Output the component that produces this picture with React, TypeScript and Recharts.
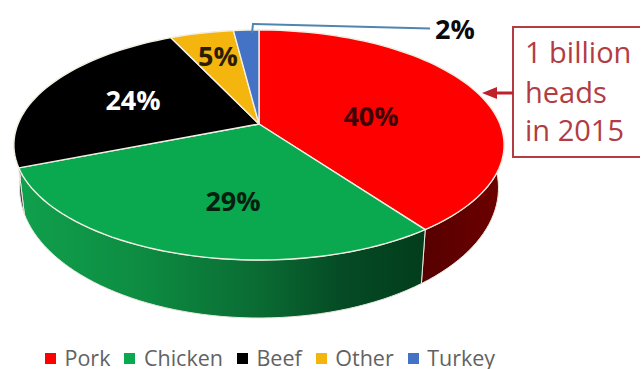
import React from "react";
import { PieChart, Pie, Cell, Legend, Customized } from "recharts";

// Share of world meat production by type
const categories = ["Pork", "Chicken", "Beef", "Other", "Turkey"];
const shares = [40, 29, 24, 5, 2];
const topColors = ["#ff0000", "#0aa84f", "#000000", "#f5b50f", "#4472c4"];

const rows = categories.map((name, i) => ({ name, value: shares[i] }));

// Tilted disc: a unit circle seen in perspective
const CX = 259;
const CY = 124;
const RADIUS = 241;
const TILT = -0.1826;
const DEPTH_SCALE = 111.2;

const faceFonts = "'Open Sans', sans-serif";

function project(angleDeg: number, cx: number, cy: number, r: number) {
  const a = (angleDeg * Math.PI) / 180;
  const u = Math.cos(a);
  const v = -Math.sin(a);
  const d = 1 + TILT * v;
  return { x: cx + (r * u) / d, y: cy + (DEPTH_SCALE * (r / RADIUS) * v) / d };
}

function lowerRim(p: { x: number; y: number }, cx: number) {
  return { x: cx + (p.x - cx) * 0.977, y: 214 + 1.13 * (p.y - 168) };
}

function arcPoints(start: number, end: number, cx: number, cy: number, r: number) {
  const n = Math.max(4, Math.ceil(Math.abs(end - start) / 2));
  const pts = [];
  for (let i = 0; i <= n; i++) pts.push(project(start + ((end - start) * i) / n, cx, cy, r));
  return pts;
}

const toPath = (pts: { x: number; y: number }[]) =>
  pts.map((p, i) => `${i ? "L" : "M"}${p.x.toFixed(2)} ${p.y.toFixed(2)}`).join(" ");

function TopSlice(props: any) {
  const { cx, cy, outerRadius, startAngle, endAngle, fill } = props;
  const pts = arcPoints(startAngle, endAngle, cx, cy, outerRadius);
  return (
    <path
      d={`M${cx} ${cy} ${toPath(pts).replace("M", "L")} Z`}
      fill={fill}
      stroke="#f3efe4"
      strokeWidth={1.4}
      strokeLinejoin="round"
    />
  );
}

function WallSlice(props: any) {
  const { cx, cy, outerRadius, startAngle, endAngle, fill } = props;
  const top = arcPoints(startAngle, endAngle, cx, cy, outerRadius);
  const bottom = top.map((p) => lowerRim(p, cx)).reverse();
  return (
    <path
      d={`${toPath(top)} ${toPath(bottom).replace("M", "L")} Z`}
      fill={fill}
      stroke="#e9e9e0"
      strokeWidth={1}
      strokeLinejoin="round"
    />
  );
}

const wallFills = ["url(#wallPork)", "url(#wallChicken)", "#3a3a3a", "#8a6a08", "#27406e"];

// Where each percentage sits on the disc, with its ink colour
const labelSpots: Record<string, { x: number; y: number; color: string }> = {
  Pork: { x: 371, y: 115, color: "#3d0505" },
  Chicken: { x: 233, y: 200, color: "#06200f" },
  Beef: { x: 133, y: 99, color: "#ffffff" },
  Other: { x: 218, y: 55, color: "#2b1c00" },
  Turkey: { x: 455, y: 28, color: "#0b0b0b" },
};

function SliceLabel(props: any) {
  const { name, value } = props;
  const spot = labelSpots[name];
  return (
    <g>
      {name === "Turkey" && (
        <polyline
          points="252,33 253,24 430,28.5"
          fill="none"
          stroke="#4f86ad"
          strokeWidth={2}
        />
      )}
      <text
        x={spot.x}
        y={spot.y}
        textAnchor="middle"
        dominantBaseline="central"
        fontFamily={faceFonts}
        fontWeight={700}
        fontSize={27}
        fill={spot.color}
      >
        {`${value}%`}
      </text>
    </g>
  );
}

function Callout() {
  const ink = "#b23c42";
  return (
    <g>
      <polyline points="640,27 513,27 513,157 640,157" fill="none" stroke={ink} strokeWidth={2} />
      <line x1={513} y1={93} x2={492} y2={93} stroke="#c0202a" strokeWidth={3} />
      <polygon points="482,93 497,87 497,99" fill="#c0202a" />
      <g fontFamily={faceFonts} fontSize={29} fill={ink}>
        <text x={525} y={63}>1 billion</text>
        <text x={525} y={103}>heads</text>
        <text x={525} y={141}>in 2015</text>
      </g>
    </g>
  );
}

function LegendRow({ payload }: any) {
  const entries = (payload || []).filter((item: any) => item.type !== "none");
  return (
    <div style={{ display: "flex", alignItems: "center", fontFamily: faceFonts, fontSize: 21.5, lineHeight: "22px", color: "#626262" }}>
      {entries.map((item: any) => (
        <span key={item.value} style={{ display: "flex", alignItems: "center", marginRight: 14 }}>
          <span style={{ width: 11, height: 11, background: item.color, marginRight: 8.5 }} />
          {item.value}
        </span>
      ))}
    </div>
  );
}

export default function App() {
  return (
    <div style={{ position: "absolute", left: 0, top: 0, background: "#fff" }}>
      <PieChart width={641} height={369} margin={{ top: 0, right: 0, bottom: 0, left: 0 }}>
        <defs>
          <linearGradient id="wallChicken" gradientUnits="userSpaceOnUse" x1={20} y1={0} x2={425} y2={0}>
            <stop offset="0" stopColor="#10a04c" />
            <stop offset="0.3" stopColor="#0d8c42" />
            <stop offset="0.6" stopColor="#0a6a32" />
            <stop offset="0.8" stopColor="#054a24" />
            <stop offset="1" stopColor="#033d1c" />
          </linearGradient>
          <linearGradient id="wallPork" gradientUnits="userSpaceOnUse" x1={422} y1={0} x2={505} y2={0}>
            <stop offset="0" stopColor="#560000" />
            <stop offset="1" stopColor="#6e0000" />
          </linearGradient>
        </defs>
        <Pie
          data={rows}
          dataKey="value"
          nameKey="name"
          cx={CX}
          cy={CY}
          outerRadius={RADIUS}
          startAngle={90}
          endAngle={-270}
          legendType="none"
          stroke="none"
          shape={WallSlice}
          isAnimationActive={false}
        >
          {rows.map((r, i) => (
            <Cell key={r.name} fill={wallFills[i]} />
          ))}
        </Pie>
        <Pie
          data={rows}
          dataKey="value"
          nameKey="name"
          cx={CX}
          cy={CY}
          outerRadius={RADIUS}
          startAngle={90}
          endAngle={-270}
          shape={TopSlice}
          label={SliceLabel}
          labelLine={false}
          isAnimationActive={false}
        >
          {rows.map((r, i) => (
            <Cell key={r.name} fill={topColors[i]} />
          ))}
        </Pie>
        <Customized component={Callout} />
        <Legend content={LegendRow} itemSorter={null} wrapperStyle={{ left: 45, top: 347, width: 596 }} />
      </PieChart>
    </div>
  );
}
